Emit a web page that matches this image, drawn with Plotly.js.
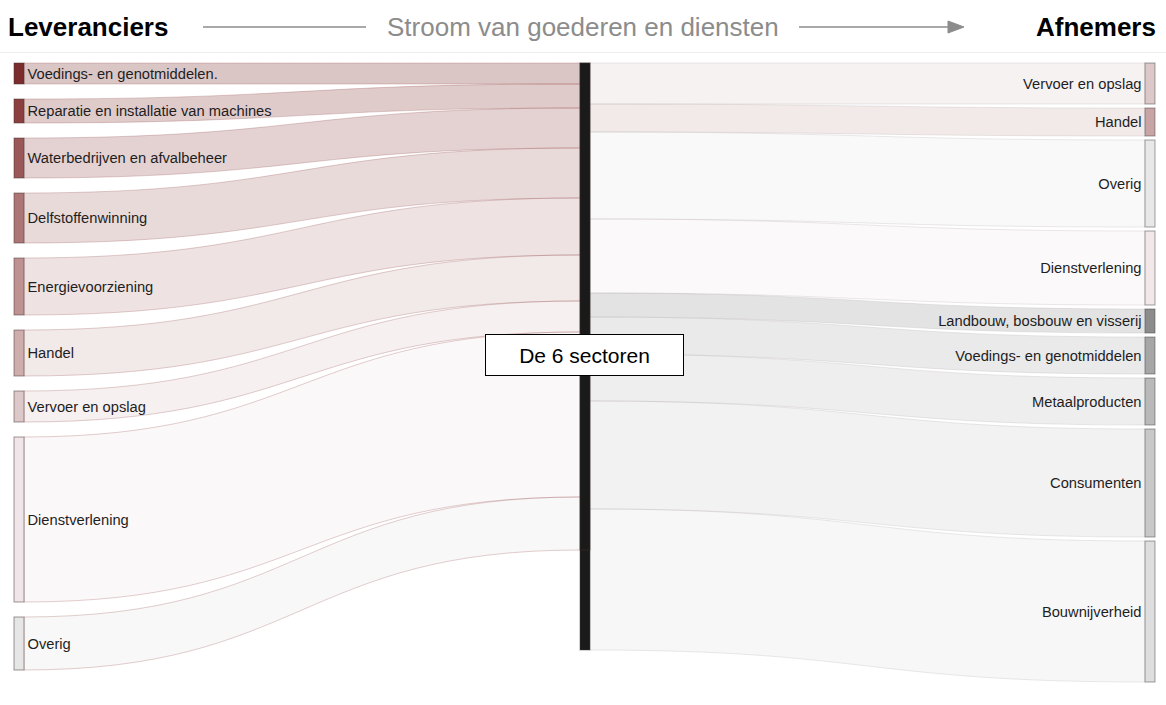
<!DOCTYPE html>
<html>
<head>
<meta charset="utf-8">
<script src="https://cdn.plot.ly/plotly-3.0.1.min.js"></script>
<style>html,body{margin:0;padding:0;background:#fff;}#chart{width:1166px;height:705px;}</style>
</head>
<body>
<div id="chart"></div>
<script>
// ---- Data (relative flow sizes) ----
const supplierLabels = ["Voedings- en genotmiddelen.", "Reparatie en installatie van machines", "Waterbedrijven en afvalbeheer", "Delfstoffenwinning", "Energievoorziening", "Handel", "Vervoer en opslag", "Dienstverlening", "Overig"];
const supplierValues = [21, 24, 40, 50, 57, 46, 31, 165, 53];
const supplierColors = ["#7b2d2d", "#8b3f3f", "#9a5858", "#ad7676", "#bf9292", "#ceadad", "#dcc8c8", "#f0e6e9", "#e6e6e6"];

const centerLabel = "De 6 sectoren";

const customerLabels = ["Vervoer en opslag", "Handel", "Overig", "Dienstverlening", "Landbouw, bosbouw en visserij", "Voedings- en genotmiddelen", "Metaalproducten", "Consumenten", "Bouwnijverheid"];
const customerValues = [41, 28, 87, 74, 24, 37, 47, 108, 141];
const customerColors = ["#dcc8c8", "#c9a4a4", "#e8e8e8", "#f2e8ea", "#8c8c8c", "#a6a6a6", "#b9b9b9", "#c8c8c8", "#dedede"];

const headerLeft = "Leveranciers";
const headerMid = "Stroom van goederen en diensten";
const headerRight = "Afnemers";

// ---- Layout helpers ----
const W = 1166, H = 705;
const M = {l: 0, r: 0, t: 63, b: 23};
const PW = W - M.l - M.r, PH = H - M.t - M.b;
const xp = px => (px - M.l) / PW;
const yp = py => (H - M.b - py) / PH;
const sum = a => a.reduce((s, v) => s + v, 0);

function rgba(hex, a) {
  const n = parseInt(hex.slice(1), 16);
  return `rgba(${(n >> 16) & 255},${(n >> 8) & 255},${n & 255},${a})`;
}
function stackCenters(vals, gap) {
  let top = 0; const out = [];
  vals.forEach(v => { out.push((top + v / 2) / PH); top += v + gap; });
  return out;
}

const FONT = {family: "Liberation Sans, Arial, sans-serif", size: 14.7, color: "#1e1e1e", shadow: "none"};
const CENTER_COLOR = "#1a1a1a";

// Left half: suppliers -> centre
const inTotal = sum(supplierValues);
const leftPad = (PH - inTotal) / (supplierValues.length - 1); // keeps the same value-to-pixel scale as the right half
const traceLeft = {
  type: "sankey", arrangement: "fixed", hoverinfo: "none",
  domain: {x: [0, 1], y: [0, 1]},
  textfont: FONT,
  node: {
    label: [...supplierLabels, ""],
    color: [...supplierColors, CENTER_COLOR],
    x: [...supplierLabels.map(() => xp(19)), xp(585)],
    y: [...stackCenters(supplierValues, 15), (inTotal / 2) / PH],
    pad: leftPad, thickness: 10,
    line: {color: "rgba(70,50,50,0.5)", width: 1},
    hoverinfo: "none"
  },
  link: {
    source: supplierValues.map((v, i) => i),
    target: supplierValues.map(() => supplierValues.length),
    value: supplierValues,
    color: supplierColors.map(c => rgba(c, 0.27)),
    line: {color: "rgba(150,80,80,0.28)", width: 1},
    hoverinfo: "none"
  }
};

// Right half: centre -> customers
const outTotal = sum(customerValues);
const traceRight = {
  type: "sankey", arrangement: "fixed", hoverinfo: "none",
  domain: {x: [0, 1], y: [0, 1]},
  textfont: FONT,
  node: {
    label: ["", ...customerLabels],
    color: [CENTER_COLOR, ...customerColors],
    x: [xp(585), ...customerLabels.map(() => xp(1150))],
    y: [(outTotal / 2) / PH, ...stackCenters(customerValues, 4)],
    pad: 4, thickness: 10,
    line: {color: "rgba(70,70,70,0.5)", width: 1},
    hoverinfo: "none"
  },
  link: {
    source: customerValues.map(() => 0),
    target: customerValues.map((v, i) => i + 1),
    value: customerValues,
    color: customerColors.map(c => rgba(c, 0.24)),
    line: {color: "rgba(190,180,180,0.3)", width: 1},
    hoverinfo: "none"
  }
};

const gray = "#8c8c8c";
const hy = 27;
const layout = {
  width: W, height: H,
  margin: M,
  paper_bgcolor: "#fff",
  font: {family: "Liberation Sans, Arial, sans-serif"},
  showlegend: false,
  annotations: [
    {xref: "paper", yref: "paper", x: xp(6), y: yp(hy), xanchor: "left", yanchor: "middle", text: "<b>" + headerLeft + "</b>", showarrow: false, font: {size: 26, color: "#000"}},
    {xref: "paper", yref: "paper", x: xp(582.5), y: yp(hy), xanchor: "center", yanchor: "middle", text: headerMid, showarrow: false, font: {size: 26, color: gray}},
    {xref: "paper", yref: "paper", x: xp(1158), y: yp(hy), xanchor: "right", yanchor: "middle", text: "<b>" + headerRight + "</b>", showarrow: false, font: {size: 26, color: "#000"}},
    {xref: "paper", yref: "paper", x: xp(584.5), y: yp(355), xanchor: "center", yanchor: "middle", text: centerLabel, showarrow: false,
     font: {size: 21, color: "#000"}, bgcolor: "#fff", bordercolor: "#000", borderwidth: 1, borderpad: 0, width: 197, height: 40}
  ],
  shapes: [
    {type: "line", xref: "paper", yref: "paper", x0: xp(203), x1: xp(366), y0: yp(hy), y1: yp(hy), line: {color: gray, width: 1.5}},
    {type: "line", xref: "paper", yref: "paper", x0: xp(799), x1: xp(950), y0: yp(hy), y1: yp(hy), line: {color: gray, width: 1.5}},
    {type: "path", xref: "paper", yref: "paper",
     path: `M ${xp(948)} ${yp(hy - 6)} L ${xp(964)} ${yp(hy)} L ${xp(948)} ${yp(hy + 6)} Z`,
     fillcolor: gray, line: {color: gray, width: 1}},
    {type: "line", xref: "paper", yref: "paper", x0: 0, x1: 1, y0: yp(52.5), y1: yp(52.5), line: {color: "#eeeeee", width: 1}}
  ]
};

Plotly.newPlot("chart", [traceRight, traceLeft], layout, {displayModeBar: false, staticPlot: true});
</script>
</body>
</html>
